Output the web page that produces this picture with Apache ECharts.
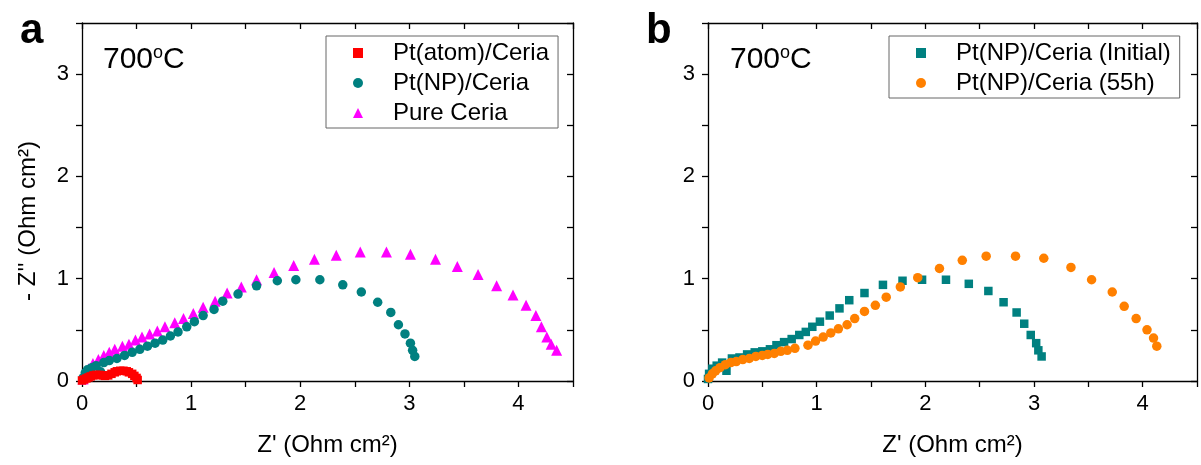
<!DOCTYPE html>
<html lang="en">
<head>
<meta charset="UTF-8">
<title>Impedance spectra at 700 C</title>
<script src="https://cdn.jsdelivr.net/npm/echarts@6/dist/echarts.min.js"></script>
<style>
  html, body { margin: 0; padding: 0; background: #fff; }
  #chart { width: 1201px; height: 465px; }
</style>
</head>
<body>
<div id="chart"></div>
<script>
// panel a: [Z', -Z''] in Ohm cm2
const atomCeria = [
  [0.00, 0.005], [0.02, 0.015], [0.04, 0.025], [0.06, 0.035], [0.08, 0.045], [0.105, 0.055],
  [0.13, 0.06], [0.16, 0.06], [0.19, 0.055], [0.21, 0.05], [0.24, 0.055], [0.27, 0.07],
  [0.30, 0.085], [0.32, 0.095], [0.35, 0.10], [0.38, 0.10], [0.41, 0.095], [0.43, 0.085],
  [0.46, 0.07], [0.48, 0.05], [0.50, 0.03], [0.51, 0.01]
];
const npCeria = [
  [0.01, 0.03], [0.03, 0.08], [0.05, 0.11], [0.09, 0.13], [0.13, 0.15], [0.17, 0.09],
  [0.20, 0.18], [0.25, 0.20], [0.32, 0.22], [0.39, 0.25], [0.46, 0.28], [0.53, 0.31],
  [0.60, 0.34], [0.67, 0.37], [0.74, 0.40], [0.81, 0.44], [0.88, 0.48], [0.96, 0.53],
  [1.03, 0.58], [1.11, 0.64], [1.21, 0.70], [1.29, 0.78], [1.43, 0.85], [1.60, 0.93],
  [1.79, 0.98], [1.96, 0.99], [2.18, 0.99], [2.39, 0.94], [2.56, 0.87], [2.71, 0.77],
  [2.83, 0.67], [2.90, 0.55], [2.96, 0.46], [3.01, 0.37], [3.03, 0.30], [3.05, 0.24]
];
const pureCeria = [
  [0.01, 0.02], [0.03, 0.07], [0.06, 0.12], [0.10, 0.17], [0.15, 0.21], [0.20, 0.25],
  [0.25, 0.28], [0.30, 0.31], [0.37, 0.34], [0.43, 0.36], [0.49, 0.40], [0.55, 0.43],
  [0.62, 0.46], [0.69, 0.49], [0.76, 0.53], [0.85, 0.57], [0.93, 0.61], [1.02, 0.66],
  [1.11, 0.72], [1.22, 0.78], [1.33, 0.86], [1.46, 0.92], [1.60, 0.99], [1.76, 1.06],
  [1.94, 1.13], [2.13, 1.19], [2.33, 1.23], [2.55, 1.26], [2.79, 1.26], [3.01, 1.24],
  [3.24, 1.19], [3.44, 1.12], [3.63, 1.04], [3.80, 0.93], [3.95, 0.84], [4.07, 0.74],
  [4.16, 0.64], [4.21, 0.53], [4.26, 0.43], [4.30, 0.36], [4.35, 0.30]
];

// panel b
const npInitial = [
  [0.00, 0.02], [0.01, 0.07], [0.04, 0.12], [0.08, 0.15], [0.13, 0.18], [0.17, 0.10],
  [0.22, 0.22], [0.29, 0.23], [0.36, 0.26], [0.43, 0.28], [0.50, 0.29], [0.57, 0.31],
  [0.63, 0.35], [0.70, 0.38], [0.77, 0.41], [0.84, 0.45], [0.90, 0.48], [0.96, 0.53],
  [1.03, 0.58], [1.12, 0.64], [1.21, 0.71], [1.30, 0.79], [1.44, 0.86], [1.61, 0.94],
  [1.79, 0.98], [1.97, 0.99], [2.19, 0.99], [2.40, 0.95], [2.58, 0.88], [2.72, 0.77],
  [2.84, 0.67], [2.91, 0.56], [2.97, 0.45], [3.02, 0.37], [3.04, 0.30], [3.07, 0.24]
];
const np55h = [
  [0.01, 0.03], [0.04, 0.07], [0.07, 0.10], [0.11, 0.13], [0.16, 0.16], [0.21, 0.18],
  [0.26, 0.19], [0.32, 0.21], [0.38, 0.22], [0.44, 0.24], [0.50, 0.25], [0.55, 0.26],
  [0.61, 0.27], [0.67, 0.29], [0.73, 0.30], [0.80, 0.32], [0.92, 0.35], [0.99, 0.39],
  [1.06, 0.43], [1.13, 0.47], [1.20, 0.51], [1.28, 0.55], [1.35, 0.61], [1.44, 0.68],
  [1.54, 0.74], [1.64, 0.82], [1.77, 0.92], [1.93, 1.01], [2.13, 1.10], [2.34, 1.18],
  [2.56, 1.22], [2.83, 1.22], [3.09, 1.20], [3.34, 1.11], [3.53, 0.99], [3.72, 0.87],
  [3.83, 0.73], [3.94, 0.61], [4.04, 0.50], [4.10, 0.42], [4.13, 0.34]
];

const legendA = ['Pt(atom)/Ceria', 'Pt(NP)/Ceria', 'Pure Ceria'];
const legendB = ['Pt(NP)/Ceria (Initial)', 'Pt(NP)/Ceria (55h)'];
const xTitle = "Z' (Ohm cm²)";
const yTitle = "- Z'' (Ohm cm²)";

const FONT = 'Liberation Sans, Arial, Helvetica, sans-serif';
const lineSt = { color: '#000', width: 1.3 };
const intLabel = v => (Number.isInteger(v) ? String(v) : '');

function xAxes(gi) {
  return [
    {
      type: 'value', gridIndex: gi, position: 'bottom', min: 0, max: 4.5, interval: 0.5,
      axisLine: { onZero: false, lineStyle: lineSt },
      axisTick: { length: 6, lineStyle: lineSt },
      axisLabel: { margin: 12, fontSize: 22, color: '#000', fontFamily: FONT, formatter: intLabel },
      splitLine: { show: false },
      name: xTitle, nameLocation: 'middle', nameGap: 52,
      nameTextStyle: { fontSize: 24, color: '#000', fontFamily: FONT }
    },
    {
      type: 'value', gridIndex: gi, position: 'top', min: 0, max: 4.5, interval: 0.5,
      axisLine: { onZero: false, lineStyle: lineSt },
      axisTick: { inside: true, length: 6, lineStyle: lineSt },
      axisLabel: { show: false }, splitLine: { show: false }
    }
  ];
}

function yAxes(gi) {
  return [
    {
      type: 'value', gridIndex: gi, position: 'left', min: 0, max: 3.5, interval: 0.5,
      axisLine: { onZero: false, lineStyle: lineSt },
      axisTick: { length: 6, lineStyle: lineSt },
      axisLabel: { margin: 13, fontSize: 22, color: '#000', fontFamily: FONT, formatter: intLabel },
      splitLine: { show: false },
      name: gi === 0 ? yTitle : '', nameLocation: 'middle', nameRotate: 90, nameGap: 42,
      nameTextStyle: { fontSize: 24, color: '#000', fontFamily: FONT, padding: [0, 38, 0, 0] }
    },
    {
      type: 'value', gridIndex: gi, position: 'right', min: 0, max: 3.5, interval: 0.5,
      axisLine: { onZero: false, lineStyle: lineSt },
      axisTick: { inside: true, length: 6, lineStyle: lineSt },
      axisLabel: { show: false }, splitLine: { show: false }
    }
  ];
}

function legendBox(left, names) {
  return {
    left: left, top: 36, orient: 'vertical', data: names,
    itemWidth: 10, itemHeight: 10, itemGap: 6,
    padding: [5, 9, 3, 27],
    borderColor: '#666', borderWidth: 1, borderRadius: 0,
    textStyle: { fontSize: 24, lineHeight: 24, color: '#000', fontFamily: FONT, padding: [0, 0, 0, 25] }
  };
}

function dots(name, data, xi, yi, symbol, size, color) {
  return {
    type: 'scatter', name: name, data: data,
    xAxisIndex: xi, yAxisIndex: yi,
    symbol: symbol, symbolSize: size,
    itemStyle: { color: color, opacity: 1 },
    emphasis: { disabled: true }
  };
}

function label(x, y, text, size, bold) {
  return {
    type: 'text', x: x, y: y,
    style: {
      text: text, fill: '#000', verticalAlign: 'middle',
      font: (bold ? 'bold ' : '') + size + 'px ' + FONT,
      rich: { o: { fontSize: 18, fontFamily: FONT, verticalAlign: 'top', lineHeight: 32, fill: '#000' } }
    }
  };
}

const chart = echarts.init(document.getElementById('chart'));
chart.setOption({
  animation: false,
  backgroundColor: '#fff',
  grid: [
    { left: 82, top: 23, width: 491, height: 358 },
    { left: 708, top: 23, width: 489, height: 358 }
  ],
  xAxis: xAxes(0).concat(xAxes(1)),
  yAxis: yAxes(0).concat(yAxes(1)),
  legend: [legendBox(326, legendA), legendBox(889, legendB)],
  graphic: [
    label(20, 31, 'a', 42, true),
    label(646, 31, 'b', 42, true),
    label(103, 60, '700{o|o}C', 30, false),
    label(730, 60, '700{o|o}C', 30, false)
  ],
  series: [
    dots(legendA[2], pureCeria, 0, 0, 'triangle', 11, '#ff00ff'),
    dots(legendA[1], npCeria, 0, 0, 'circle', 9.5, '#008080'),
    dots(legendA[0], atomCeria, 0, 0, 'rect', 8.5, '#ff0000'),
    dots(legendB[0], npInitial, 2, 2, 'rect', 8.5, '#008080'),
    dots(legendB[1], np55h, 2, 2, 'circle', 9.5, '#ff8000')
  ]
});
</script>
</body>
</html>
